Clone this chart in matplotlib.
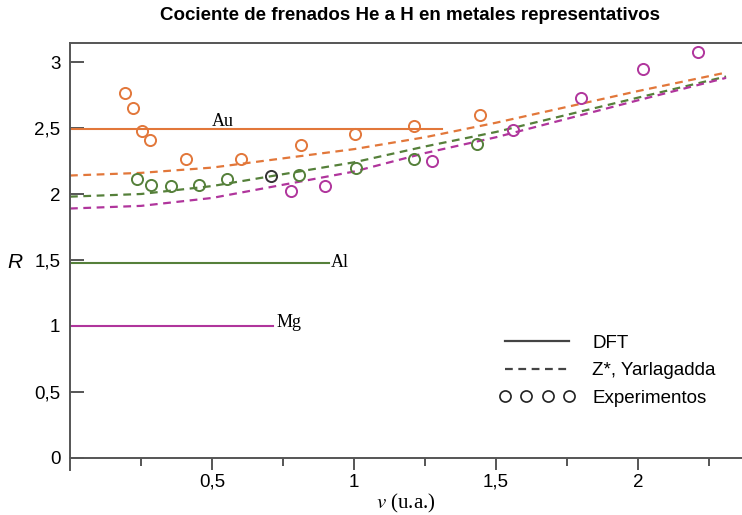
import matplotlib
matplotlib.use('Agg')
import matplotlib.pyplot as plt
from matplotlib.lines import Line2D
from matplotlib.ticker import FuncFormatter

plt.rcParams['font.family'] = 'Liberation Sans'
plt.rcParams['mathtext.fontset'] = 'stix'

orange = '#e2773a'
green = '#55803a'
magenta = '#b0359c'

# DFT (horizontal levels)
dft_R = {'Au': 2.49, 'Al': 1.48, 'Mg': 1.0}
dft_vmax = {'Au': 1.31, 'Al': 0.912, 'Mg': 0.715}

# Z*, Yarlagadda curves
v_curve = [0, 0.25, 0.5, 0.75, 1.0, 1.25, 1.5, 1.75, 2.0, 2.31]
zy_au = [2.14, 2.16, 2.20, 2.27, 2.34, 2.43, 2.54, 2.66, 2.78, 2.92]
zy_al = [1.98, 2.00, 2.06, 2.15, 2.24, 2.36, 2.47, 2.60, 2.73, 2.89]
zy_mg = [1.89, 1.91, 1.97, 2.07, 2.17, 2.31, 2.43, 2.57, 2.71, 2.88]

# experiments
v_au = [0.194, 0.222, 0.254, 0.282, 0.408, 0.602, 0.813, 1.004, 1.211, 1.444]
r_au = [2.765, 2.65, 2.477, 2.41, 2.265, 2.265, 2.37, 2.455, 2.515, 2.60]
v_al = [0.236, 0.285, 0.356, 0.454, 0.553, 0.806, 1.007, 1.211, 1.433]
r_al = [2.114, 2.068, 2.061, 2.068, 2.114, 2.144, 2.197, 2.265, 2.379]
v_blk = [0.708]
r_blk = [2.136]
v_mg = [0.778, 0.898, 1.275, 1.560, 1.799, 2.018, 2.211]
r_mg = [2.023, 2.061, 2.25, 2.485, 2.727, 2.947, 3.076]

fig = plt.figure(figsize=(7.42, 5.15), dpi=100)
ax = fig.add_axes([70 / 742, 1 - 470 / 515, 672 / 742, 427 / 515])

for name, col in [('Au', orange), ('Al', green), ('Mg', magenta)]:
    ax.plot([0, dft_vmax[name]], [dft_R[name]] * 2, color=col, lw=1.5)

ax.text(0.5, 2.485, 'Au', family='Liberation Serif', fontsize=13, va='bottom', ha='left')
ax.text(0.917, 1.48, 'Al', family='Liberation Serif', fontsize=13, va='center', ha='left')
ax.text(0.728, 1.03, 'Mg', family='Liberation Serif', fontsize=13, va='center', ha='left')

dash = (0, (3.5, 2.5))
ax.plot(v_curve, zy_au, color=orange, lw=1.6, ls=dash)
ax.plot(v_curve, zy_al, color=green, lw=1.6, ls=dash)
ax.plot(v_curve, zy_mg, color=magenta, lw=1.6, ls=dash)

mk = dict(ls='none', marker='o', mfc='none', ms=8, mew=1.4)
ax.plot(v_au, r_au, mec=orange, **mk)
ax.plot(v_al, r_al, mec=green, **mk)
ax.plot(v_blk, r_blk, mec='#333333', **mk)
ax.plot(v_mg, r_mg, mec=magenta, **mk)

ax.set_xlim(0, 2.366)
ax.set_ylim(-0.091, 3.144)

for s in ['left', 'top', 'bottom']:
    ax.spines[s].set_color('#555555')
    ax.spines[s].set_linewidth(1.4)
ax.spines['right'].set_visible(False)
ax.spines['bottom'].set_position(('data', 0))

comma = FuncFormatter(lambda x, p: ('%g' % x).replace('.', ','))
ax.set_xticks([0.5, 1, 1.5, 2])
ax.set_xticks([0.25, 0.75, 1.25, 1.75, 2.25], minor=True)
ax.set_yticks([0, 0.5, 1, 1.5, 2, 2.5, 3])
ax.xaxis.set_major_formatter(comma)
ax.yaxis.set_major_formatter(comma)
ax.tick_params(axis='x', which='major', direction='out', length=8.5, width=1.4,
               color='#555555', labelsize=13.5, pad=3)
ax.tick_params(axis='x', which='minor', direction='out', length=5.5, width=1.4,
               color='#555555')
ax.tick_params(axis='y', direction='in', length=10, width=1.4, color='#555555',
               labelsize=13.5, pad=7)

fig.text(15 / 742, 1 - 263 / 515, 'R', fontsize=15, fontstyle='italic',
         ha='center', va='center')
fig.text(406 / 742, 1 - 503 / 515, '$v$ (u.a.)', family='Liberation Serif',
         fontsize=15, ha='center', va='center')
fig.text(410 / 742, 1 - 15 / 515,
         'Cociente de frenados He a H en metales representativos',
         fontsize=13.5, fontweight='bold', ha='center', va='center')

handles = [
    Line2D([], [], color='#444444', lw=1.6),
    Line2D([], [], color='#444444', lw=1.6, ls=dash),
    Line2D([], [], ls='none', marker='o', mfc='none', mec='#222222', ms=8, mew=1.2),
]
labels = ['DFT', 'Z*, Yarlagadda', 'Experimentos']
ax.legend(handles, labels, loc='upper left', bbox_to_anchor=(490 / 742, 1 - 325 / 515),
          bbox_transform=fig.transFigure, frameon=False, fontsize=13.5,
          handlelength=4.0, handletextpad=0.95, numpoints=4, labelspacing=0.56,
          borderpad=0)

fig.savefig('out.png', dpi=100)
